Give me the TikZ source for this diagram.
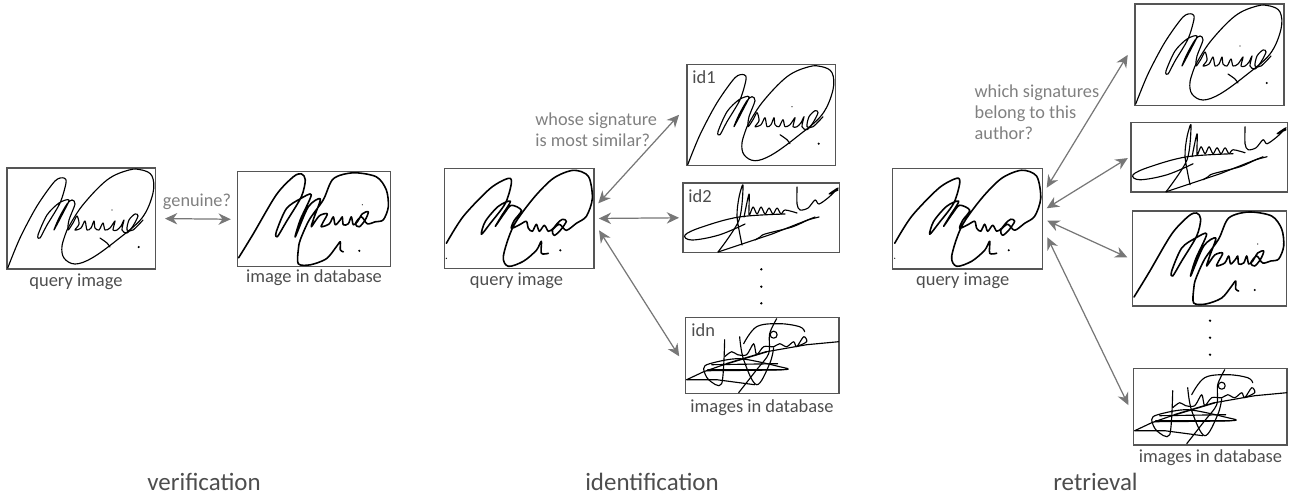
\documentclass[tikz,border=0pt]{standalone}
\usepackage{fontspec}
\setmainfont{Carlito}
\usepackage{xcolor}
\usetikzlibrary{arrows.meta, positioning}
\definecolor{boxgray}{HTML}{555555}
\definecolor{linkgray}{HTML}{777777}
\definecolor{asklabel}{HTML}{808080}
\definecolor{caplabel}{HTML}{4D4D4D}
\tikzset{
  sigbox/.style 2 args={draw=boxgray, line width=0.7pt, inner sep=0pt, outer sep=0pt,
    minimum width=#1*0.02cm, minimum height=#2*0.02cm},
  link/.style={{Stealth[length=7pt,width=6.5pt]}-{Stealth[length=7pt,width=6.5pt]},
    draw=linkgray, line width=0.7pt},
  caption/.style={text=caplabel, font=\fontsize{10.5}{12}\selectfont},
  asklbl/.style={text=asklabel, font=\fontsize{10.4}{11.95}\selectfont, align=left},
  tag/.style={text=caplabel, font=\fontsize{10.5}{12}\selectfont, anchor=west, inner sep=0pt},
  title/.style={text=caplabel, font=\fontsize{14.2}{16}\selectfont},
  pen/.style={line width=0.65pt, line cap=round, line join=round},
  heavy/.style={line width=0.9pt, line cap=round, line join=round}
}
% the four signatures, px offsets from the top left corner of the box
\newcommand{\sigmaujao}[1]{
  \begin{scope}[shift={(#1.north west)}]
    \draw[pen] plot[smooth, tension=.5] coordinates {(0.7,100) (13,70) (30,38) (48,13) (57,10) (59,15) (53,35) (40,57)
      (33,70) (31,67) (40,47) (52,35) (62,32) (56,45) (47,62) (52,50) (60,36) (65,32) (68,36) (62,52) (61,62) (66,55)
      (70,48) (72,56) (68,62) (74,60) (78,53) (80,62) (84,60) (87,53) (88,60) (92,62) (96,55) (98,62) (103,60) (108,53)
      (106,62) (110,62) (114,58) (117,52) (115,62) (120,65) (126,58) (131,48) (128,46) (122,52) (120,62) (126,62)
      (136,52)};
    \draw[pen] plot[smooth, tension=.6] coordinates {(60,62) (55,78) (57,90) (68,96) (85,90) (110,72) (135,50) (146,25)
      (145,8) (135,2) (122,2) (100,12) (75,38) (60,62)};
    \draw[pen] plot[smooth] coordinates {(93,70) (100,75) (103,79)};
    \fill (131.7,79) circle (1.2) (105,42) circle (0.6);
  \end{scope}
}
\newcommand{\sigbroad}[1]{
  \begin{scope}[shift={(#1.north west)}]
    \draw[heavy] plot[smooth, tension=.5] coordinates {(1.3,86) (16,62) (39,23) (56,5) (64,2) (68,8) (64,25) (49,50)
      (40,65) (39,60) (49,37) (63,27) (74,23) (63,48) (58,65) (71,35) (83,27) (77,45) (74,55) (82,44) (90,42) (86,50)
      (84,55) (92,52) (96,45) (98,53) (103,48) (105,45) (106,53) (111,52) (114,45) (116,53) (120,50) (125,42) (131,40)
      (128,48) (122,55) (118,52) (124,45) (130,52) (138,50) (146,48) (151,35) (149,18) (139,5) (116,1) (96,7) (86,28)
      (72,48) (63,68) (61,78) (61,92) (73,93) (89,87) (99,75) (103,70) (103,78) (106,80)};
    \fill (122,79) circle (1.2) (125,33) circle (0.6);
  \end{scope}
}
\newcommand{\sigquery}[1]{
  \begin{scope}[shift={(#1.north west)}]
    \draw[heavy] plot[smooth, tension=.5] coordinates {(2,75) (19,48) (46,20) (64,10) (67,15) (61,35) (46,55) (37,66)
      (41,53) (54,38) (66,33) (57,48) (51,58) (60,45) (67,37) (77,42) (70,52) (67,60) (76,56) (82,53) (84,60) (88,63)
      (92,56) (95,63) (100,57) (104,63) (109,60) (113,55) (118,51) (122,53) (116,62) (110,67) (108,62) (115,56) (122,62)
      (132,55) (142,48) (148,30) (144,8) (129,2) (109,10) (89,30) (69,58) (59,88) (64,98) (79,93) (92,82) (97,73) (97,85)
      (104,85)};
    \fill (116,82) circle (1.2) (2,90) circle (0.7);
  \end{scope}
}
\newcommand{\sigflat}[1]{
  \begin{scope}[shift={(#1.north west)}]
    \draw[pen] plot[smooth, tension=.5] coordinates {(35,69) (56,37) (60,2) (56,14) (54,34) (59,62)};
    \draw[pen] plot[smooth, tension=.6] coordinates {(102,31) (56,34) (19,44) (2,52) (9,57) (36,52) (62,41)};
    \draw[pen] (35,69) -- (89,51) -- (132,34);
    \draw[pen] plot[smooth, tension=.5] coordinates {(61,34) (66,11) (66,32) (70,24) (74,31) (78,24) (82,31) (86,25)
      (90,31) (94,25) (98,31) (102,27) (114,30)};
    \draw[pen] plot[smooth, tension=.5] coordinates {(114,4) (114,21) (117,27) (125,25) (132,17) (136,21) (146,14)
      (155,5) (146,11) (155,7)};
    \draw[pen] plot[smooth, tension=.5] coordinates {(72,57) (77,54) (82,51) (109,44) (125,37) (136,34)};
  \end{scope}
}
\newcommand{\sigknot}[1]{
  \begin{scope}[shift={(#1.north west)}]
    \draw[pen] (1,62) -- (18,54) -- (41,46);
    \draw[heavy] (41,46) -- (81,34);
    \draw[pen] (81,34) -- (121,27) -- (153,24);
    \draw[pen] plot[smooth, tension=.5] coordinates {(39,22) (36,66) (23,62) (18,51) (24,46) (54,41) (94,49) (98,52)
      (21,53)};
    \draw[pen] (26,47) -- (92,46) (22,52) -- (96,52);
    \draw[pen] (1,62) -- (31,62) -- (69,67);
    \draw[pen] plot[smooth, tension=.5] coordinates {(53,75) (71,52) (83,36) (84,16) (91,1)};
    \draw[pen] plot[smooth, tension=.6] coordinates {(54,19) (58,42) (71,67) (84,46) (88,30)};
    \draw[pen] plot[smooth, tension=.6] coordinates {(58,26) (71,9) (94,6) (114,9) (119,14)};
    \draw[pen] plot[smooth, tension=.5] coordinates {(39,39) (46,34) (52,37) (61,37) (68,26) (71,37) (78,29) (88,29)
      (94,26) (101,29) (108,24) (111,29) (118,19) (121,24) (111,29)};
    \draw[pen] (88,17) circle (3.5);
  \end{scope}
}

\begin{document}
\begin{tikzpicture}[x=0.02cm, y=-0.02cm]
  \useasboundingbox (0,0) rectangle (1295,495);

  % verification
  \node[sigbox={148.7}{101}] (qone) at (81.35,218.5) {};
  \node[sigbox={153.4}{95}] (dbone) at (314,219.3) {};
  \sigmaujao{qone}
  \sigbroad{dbone}
  \draw[link, shorten <=0.186cm, shorten >=0.13cm] (qone.east) -- (dbone.west);
  \node[asklbl] (askone) at (197,201.7) {genuine?};
  \node[caption] (capqone) at (76,281.7) {query image};
  \node[caption] (capdbone) at (314,278) {image in database};
  \node[title] (verif) at (204,482) {verification};

  % identification
  \node[sigbox={149.7}{100.4}] (qtwo) at (519.2,218.5) {};
  \node[sigbox={148.6}{101}] (idone) at (761.3,115.2) {};
  \node[sigbox={156.5}{69.5}] (idtwo) at (761.3,217.75) {};
  \node[sigbox={153.3}{76}] (idlast) at (762.3,355.7) {};
  \sigquery{qtwo}
  \sigmaujao{idone}
  \sigflat{idtwo}
  \sigknot{idlast}
  \draw[link, shorten <=0.126cm, shorten >=0.236cm] (qtwo.8.8) -- (idone.173.7);
  \draw[link, shorten <=0.094cm, shorten >=0.08cm] (qtwo.east) -- (idtwo.west);
  \draw[link, shorten <=0.187cm, shorten >=0.24cm] (qtwo.-3.3) -- (idlast.188.7);
  \node[tag] (tagone) at (692,76.7) {id1};
  \node[tag] (tagtwo) at (688,195.7) {id2};
  \node[tag] (taglast) at (691,330) {idn};
  \foreach \y in {269.3,286.7,303.3}{
    \fill (761.3,\y) circle (1.3);
  }
  \node[asklbl, anchor=west, inner sep=0pt] (asktwo) at (535,129.5) {whose signature\\is most similar?};
  \node[caption] (capqtwo) at (516.5,280.7) {query image};
  \node[caption] (capidb) at (762,407.7) {images in database};
  \node[title] (ident) at (652,482) {identification};

  % retrieval
  \node[sigbox={150}{100.7}] (qthree) at (967.7,218.6) {};
  \node[sigbox={149}{101.5}] (retone) at (1209.5,54.75) {};
  \node[sigbox={156.3}{69.3}] (rettwo) at (1209.2,157.4) {};
  \node[sigbox={153.6}{95}] (retthree) at (1209.5,258.5) {};
  \node[sigbox={153.3}{76.3}] (retfour) at (1210.35,406.85) {};
  \sigquery{qthree}
  \sigmaujao{retone}
  \sigflat{rettwo}
  \sigbroad{retthree}
  \sigknot{retfour}
  \draw[link, shorten <=0.153cm, shorten >=0.279cm] (qthree.18) -- (retone.171.9);
  \draw[link, shorten <=0.094cm, shorten >=0.077cm] (qthree.6.8) -- (rettwo.179.2);
  \draw[link, shorten <=0.1cm, shorten >=0.118cm] (qthree.-0.8) -- (retthree.181.2);
  \draw[link, shorten <=0.21cm, shorten >=0.248cm] (qthree.-7.7) -- (retfour.187.7);
  \foreach \y in {320.7,337.7,354.7}{
    \fill (1210,\y) circle (1.3);
  }
  \node[asklbl, anchor=west, inner sep=0pt] (askthree) at (974.3,112.7) {which signatures\\belong to this\\author?};
  \node[caption] (capqthree) at (962.7,281) {query image};
  \node[caption] (capretdb) at (1210.5,458) {images in database};
  \node[title] (retr) at (1095.5,482) {retrieval};
\end{tikzpicture}
\end{document}
